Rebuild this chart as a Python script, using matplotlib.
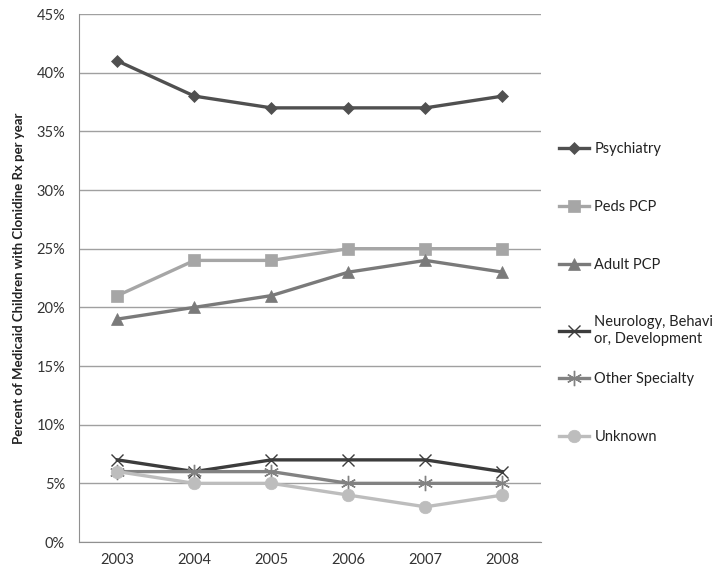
import matplotlib.pyplot as plt
import numpy as np

plt.rcParams['font.family'] = ['Lato', 'DejaVu Sans']

years = ['2003', '2004', '2005', '2006', '2007', '2008']
psychiatry = [41, 38, 37, 37, 37, 38]
peds_pcp = [21, 24, 24, 25, 25, 25]
adult_pcp = [19, 20, 21, 23, 24, 23]
neurology = [7, 6, 7, 7, 7, 6]
other_specialty = [6, 6, 6, 5, 5, 5]
unknown = [6, 5, 5, 4, 3, 4]

fig = plt.figure(figsize=(7.14, 5.81), dpi=100)
ax = fig.add_axes([0.1106, 0.0671, 0.647, 0.9088])

x = np.arange(len(years))

# series: values, label, colour, marker, marker size
series = [
    (psychiatry, 'Psychiatry', '#505050', 'D', 6),
    (peds_pcp, 'Peds PCP', '#a6a6a6', 's', 8),
    (adult_pcp, 'Adult PCP', '#7a7a7a', '^', 8),
    (neurology, 'Neurology, Behavi\nor, Development', '#3c3c3c', 'x', 9),
    (other_specialty, 'Other Specialty', '#828282', (6, 2, 0), 11),
    (unknown, 'Unknown', '#bdbdbd', 'o', 9),
]

for vals, lab, col, mk, ms in series:
    ax.plot(x, vals, color=col, linewidth=2.4, marker=mk, markersize=ms,
            markeredgewidth=1.0 if mk in ('x', (6, 2, 0)) else 0.5,
            markeredgecolor=col, markerfacecolor=col, label=lab, zorder=3)

ax.set_xlim(-0.5, 5.5)
ax.set_ylim(0, 45)
ax.set_yticks(range(0, 46, 5))
ax.set_yticklabels([f'{v}%' for v in range(0, 46, 5)])
ax.set_xticks(x)
ax.set_xticklabels(years)
ax.tick_params(length=0, labelsize=10.5, colors='#333333', pad=8)
ax.tick_params(axis='y', pad=10)
ax.grid(axis='y', color='#a0a0a0', linewidth=1)
ax.set_axisbelow(True)
for s in ['top', 'right']:
    ax.spines[s].set_visible(False)
ax.spines['left'].set_color('#909090')
ax.spines['bottom'].set_color('#909090')

ax.set_ylabel('Percent of Medicaid Children with Clonidine Rx per year',
              fontsize=9.5, fontweight='bold', color='#222222', labelpad=8)

# legend split in two so the wrapped label doesn't push the last entries down
handles, labels = ax.get_legend_handles_labels()
leg_kw = dict(frameon=False, fontsize=10.5, labelspacing=3.0, handlelength=2.0,
              handletextpad=0.4, labelcolor='#222222')
fig.legend(handles[:4], labels[:4], loc='upper left',
           bbox_to_anchor=(0.765, 0.778), **leg_kw)
fig.legend(handles[4:], labels[4:], loc='upper left',
           bbox_to_anchor=(0.765, 0.382), **leg_kw)

plt.savefig('out.png')
